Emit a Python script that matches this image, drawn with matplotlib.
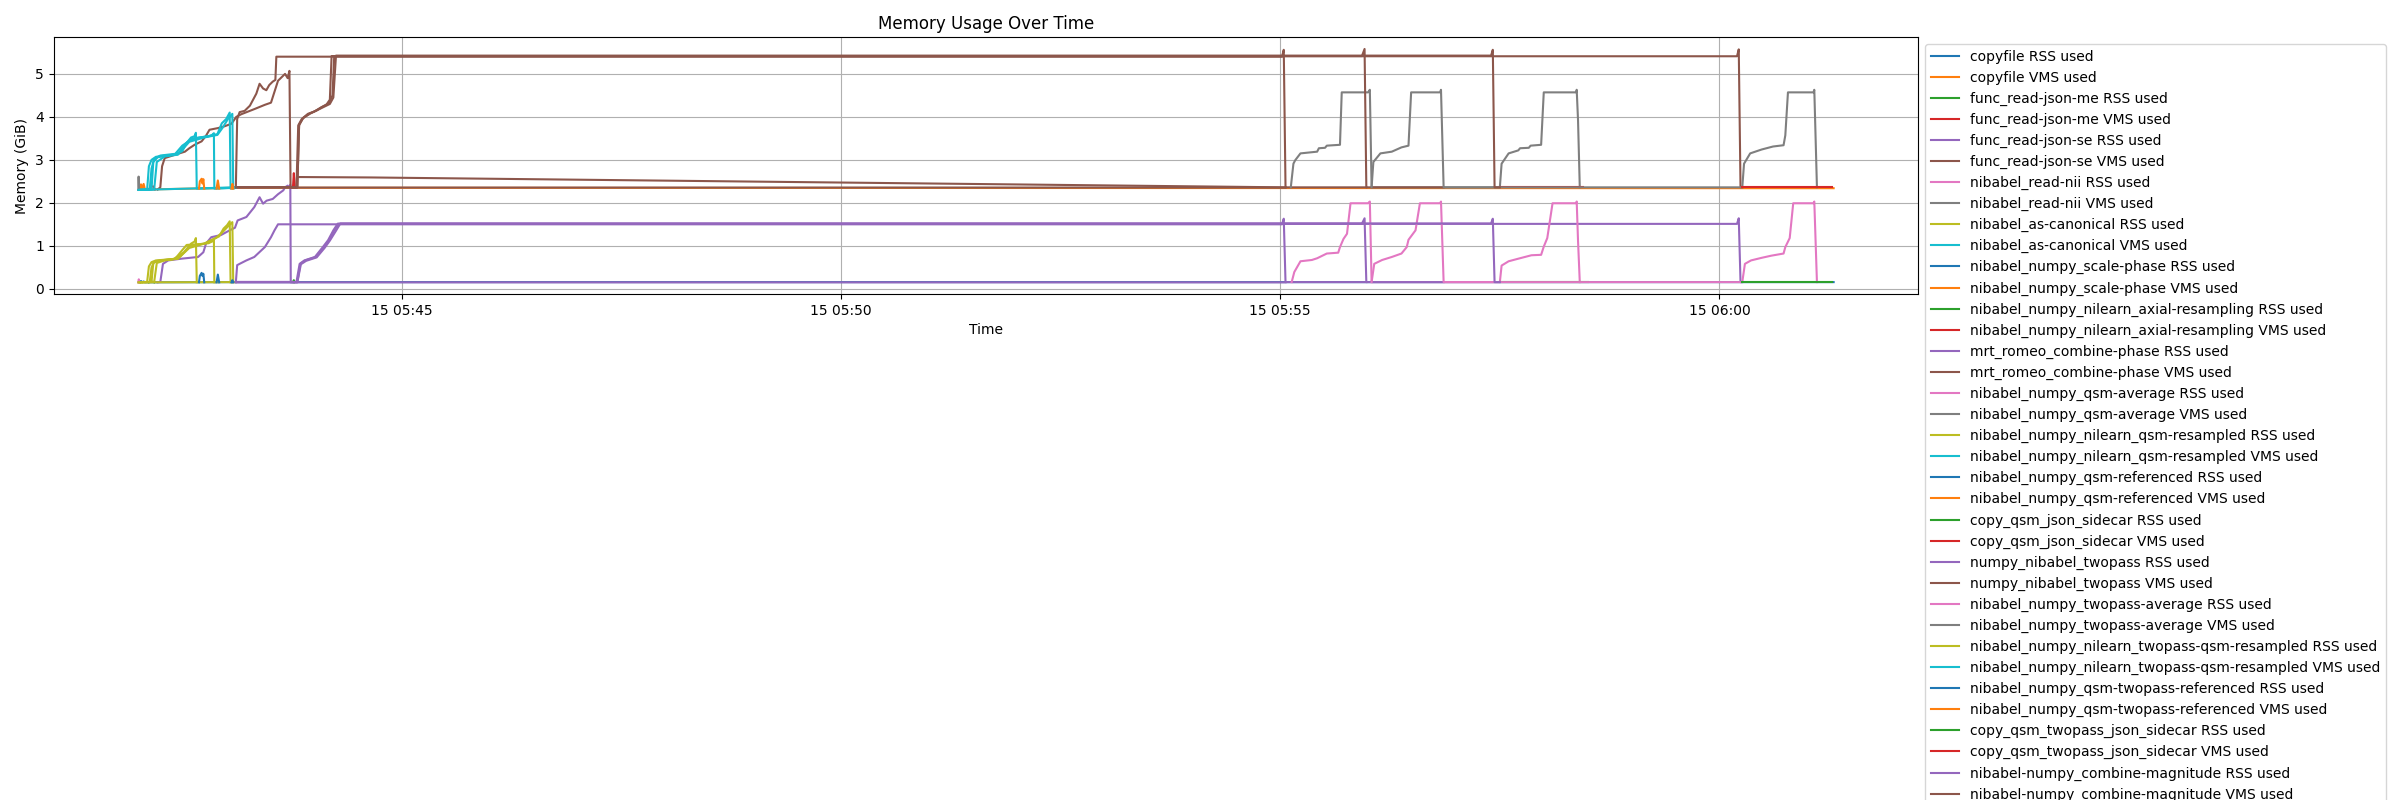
import matplotlib
matplotlib.use("Agg")
import matplotlib.pyplot as plt
import numpy as np

# Time points are minutes after the base time; values in GiB
base_time = "2024-05-15T05:40:00"

copyfile_rss = [(2.02, 0.15), (2.03, 0.18), (2.045, 0.15), (2.06, 0.17), (2.075, 0.15), (3.11, 0.155),
                (21.30, 0.155)]
copyfile_vms = [(2.02, 2.31), (2.03, 2.43), (2.045, 2.33), (2.06, 2.44), (2.075, 2.31), (3.11, 2.35),
                (21.30, 2.34)]
json_me_rss = [(2.12, 0.15), (2.15, 0.17), (2.18, 0.15)]
json_me_vms = [(2.12, 2.31), (2.14, 2.38), (2.17, 2.38), (2.19, 2.31)]
json_se_rss = [(2.22, 0.15), (2.25, 0.16), (2.28, 0.58), (2.34, 0.66), (2.49, 0.70), (2.68, 0.74),
               (2.74, 0.85), (2.77, 1.05), (2.83, 1.20), (2.94, 1.25), (3.04, 1.36), (3.10, 1.42),
               (3.13, 1.59), (3.23, 1.67), (3.32, 1.90), (3.38, 2.13), (3.42, 1.98), (3.46, 2.05),
               (3.53, 2.09), (3.59, 2.20), (3.65, 2.29), (3.67, 2.36), (3.70, 2.40), (3.72, 2.36),
               (3.73, 2.42), (3.735, 0.15), (15.06, 0.15)]
json_se_vms = [(2.22, 2.31), (2.25, 2.36), (2.27, 2.85), (2.30, 3.04), (2.45, 3.14), (2.53, 3.19),
               (2.58, 3.27), (2.64, 3.35), (2.72, 3.43), (2.77, 3.56), (2.81, 3.70), (2.91, 3.74),
               (2.98, 3.78), (3.06, 3.84), (3.115, 4.00), (3.17, 4.06), (3.32, 4.18), (3.44, 4.28),
               (3.51, 4.33), (3.59, 4.84), (3.67, 5.00), (3.70, 4.90), (3.72, 5.07), (3.733, 2.355),
               (15.06, 2.355)]
read_nii_rss = [(2.00, 0.15), (2.005, 0.22), (2.01, 0.15)]
read_nii_vms = [(2.00, 2.30), (2.003, 2.61), (2.008, 2.30), (2.02, 2.30)]
canonical_rss = [(2.00, 0.15), (2.10, 0.16), (2.12, 0.52), (2.15, 0.62), (2.20, 0.66), (2.45, 0.70),
                 (2.50, 0.80), (2.56, 0.94), (2.60, 1.05), (2.64, 1.10), (2.655, 1.18), (2.665, 0.15)]
canonical_vms = [(2.00, 2.30), (2.10, 2.31), (2.12, 2.85), (2.15, 3.00), (2.20, 3.07), (2.30, 3.10),
                 (2.45, 3.13), (2.50, 3.28), (2.56, 3.42), (2.60, 3.52), (2.64, 3.55), (2.655, 3.63),
                 (2.665, 2.33), (3.11, 2.35)]
scale_phase_rss = [(2.69, 0.15), (2.70, 0.30), (2.72, 0.37), (2.73, 0.30), (2.74, 0.35), (2.75, 0.15)]
scale_phase_vms = [(2.69, 2.33), (2.70, 2.50), (2.72, 2.56), (2.73, 2.45), (2.74, 2.55), (2.75, 2.33)]
axial_rss = [(3.76, 0.155), (3.77, 0.20), (3.78, 0.155)]
axial_vms = [(3.76, 2.36), (3.77, 2.69), (3.78, 2.36)]
romeo_rss = [(3.11, 0.155), (3.125, 0.55), (3.153, 0.58), (3.23, 0.66), (3.32, 0.74), (3.44, 0.97),
             (3.51, 1.20), (3.55, 1.36), (3.59, 1.50), (15.02, 1.50), (15.04, 1.63), (15.06, 0.155),
             (15.98, 0.155)]
romeo_vms = [(3.11, 2.36), (3.125, 3.95), (3.153, 4.11), (3.21, 4.14), (3.27, 4.26), (3.343, 4.54),
             (3.38, 4.77), (3.42, 4.66), (3.457, 4.62), (3.49, 4.74), (3.53, 4.82), (3.56, 4.86),
             (3.571, 5.40), (15.02, 5.40), (15.04, 5.56), (15.06, 2.36), (15.98, 2.36)]
qsm_avg_rss = [(15.13, 0.155), (15.16, 0.39), (15.23, 0.64), (15.36, 0.67), (15.42, 0.71), (15.53, 0.82),
               (15.66, 0.84), (15.68, 0.97), (15.72, 1.16), (15.76, 1.28), (15.80, 1.99), (16.00, 1.99),
               (16.02, 2.03), (16.04, 0.155), (17.50, 0.155), (17.52, 0.54), (17.60, 0.64), (17.71, 0.70),
               (17.86, 0.78), (17.97, 0.79), (18.00, 0.98), (18.04, 1.18), (18.10, 1.99), (18.37, 1.99),
               (18.375, 2.03), (18.39, 1.12), (18.41, 0.155)]
qsm_avg_vms = [(15.12, 2.36), (15.15, 2.91), (15.17, 2.99), (15.23, 3.15), (15.42, 3.19), (15.44, 3.27),
               (15.51, 3.28), (15.53, 3.33), (15.68, 3.35), (15.70, 4.57), (16.00, 4.57), (16.02, 4.63),
               (16.04, 2.36), (17.50, 2.36), (17.52, 2.91), (17.60, 3.15), (17.71, 3.22), (17.73, 3.27),
               (17.83, 3.28), (17.85, 3.33), (17.97, 3.35), (18.00, 4.57), (18.37, 4.57), (18.375, 4.63),
               (18.39, 3.93), (18.41, 2.36)]
resampled_rss = [(2.01, 0.15), (2.13, 0.16), (2.15, 0.50), (2.18, 0.62), (2.25, 0.66), (2.42, 0.70),
                 (2.50, 0.90), (2.55, 1.02), (2.70, 1.04), (2.80, 1.06), (2.84, 1.10), (2.86, 1.16),
                 (2.865, 0.15)]
resampled_vms = [(2.01, 2.30), (2.13, 2.32), (2.15, 2.80), (2.18, 3.02), (2.25, 3.10), (2.42, 3.14),
                 (2.50, 3.33), (2.60, 3.47), (2.70, 3.52), (2.80, 3.55), (2.84, 3.58), (2.86, 3.62),
                 (2.865, 2.33), (3.11, 2.35)]
referenced_rss = [(2.89, 0.15), (2.905, 0.33), (2.92, 0.15)]
referenced_vms = [(2.89, 2.33), (2.905, 2.52), (2.92, 2.33)]
sidecar_rss = [(17.50, 0.16), (18.50, 0.16)]
sidecar_vms = [(17.50, 2.36), (18.45, 2.36)]
twopass_rss = [(3.11, 0.16), (3.80, 0.16), (3.836, 0.58), (3.89, 0.66), (4.01, 0.74), (4.10, 0.97),
               (4.16, 1.13), (4.22, 1.36), (4.27, 1.515), (15.93, 1.515), (15.96, 1.64), (15.98, 0.155),
               (16.86, 0.155)]
twopass_vms = [(3.11, 2.365), (3.80, 2.365), (3.82, 3.80), (3.86, 3.95), (3.93, 4.07), (4.00, 4.12),
               (4.08, 4.22), (4.14, 4.28), (4.18, 4.40), (4.20, 5.415), (15.93, 5.415), (15.96, 5.58),
               (15.98, 2.36), (16.86, 2.36)]
tp_avg_rss = [(16.04, 0.155), (16.07, 0.58), (16.16, 0.67), (16.27, 0.74), (16.38, 0.82), (16.44, 0.97),
              (16.46, 1.14), (16.54, 1.36), (16.59, 1.99), (16.82, 1.99), (16.83, 2.03), (16.86, 0.155),
              (20.26, 0.155), (20.29, 0.58), (20.36, 0.66), (20.48, 0.72), (20.59, 0.77), (20.73, 0.82),
              (20.75, 0.97), (20.80, 1.18), (20.84, 1.99), (21.07, 1.99), (21.08, 2.03), (21.11, 0.155)]
tp_avg_vms = [(16.04, 2.36), (16.06, 2.95), (16.14, 3.15), (16.27, 3.19), (16.38, 3.29), (16.46, 3.33),
              (16.49, 4.57), (16.82, 4.57), (16.83, 4.63), (16.86, 2.36), (20.26, 2.36), (20.28, 2.91),
              (20.35, 3.15), (20.48, 3.24), (20.61, 3.31), (20.73, 3.34), (20.75, 3.57), (20.78, 4.57),
              (21.07, 4.57), (21.08, 4.63), (21.11, 2.36)]
tp_resampled_rss = [(2.02, 0.15), (2.15, 0.16), (2.17, 0.60), (2.22, 0.65), (2.40, 0.69), (2.52, 0.85),
                    (2.58, 1.00), (2.75, 1.05), (2.85, 1.15), (2.92, 1.22), (2.97, 1.40), (3.01, 1.48),
                    (3.04, 1.57), (3.05, 0.15)]
tp_resampled_vms = [(2.02, 2.30), (2.15, 2.31), (2.17, 2.95), (2.22, 3.06), (2.40, 3.12), (2.50, 3.20),
                    (2.55, 3.40), (2.62, 3.50), (2.80, 3.55), (2.90, 3.60), (2.95, 3.85), (3.00, 3.95),
                    (3.04, 4.10), (3.05, 2.33), (3.11, 2.35)]
tp_referenced_rss = [(3.06, 0.15), (3.07, 0.20), (3.08, 0.15)]
tp_referenced_vms = [(3.06, 2.33), (3.07, 2.44), (3.08, 2.33)]
tp_sidecar_rss = [(20.26, 0.16), (21.28, 0.16)]
tp_sidecar_vms = [(20.26, 2.36), (21.28, 2.36)]
magnitude_rss = [(3.11, 0.15), (3.81, 0.15), (3.85, 0.57), (3.91, 0.65), (4.03, 0.73), (4.12, 0.95),
                 (4.18, 1.12), (4.25, 1.35), (4.30, 1.52), (17.40, 1.52), (17.42, 1.63), (17.44, 0.155),
                 (17.50, 0.155)]
magnitude_vms = [(3.11, 2.355), (3.81, 2.355), (3.83, 3.82), (3.88, 3.98), (3.96, 4.08), (4.04, 4.16),
                 (4.12, 4.24), (4.18, 4.30), (4.22, 4.45), (4.25, 5.425), (17.40, 5.425), (17.42, 5.56),
                 (17.44, 2.36), (17.50, 2.36)]

# further processes whose legend entries fall below the visible figure
more_vms_a = [(2.03, 2.30), (2.18, 2.31), (2.21, 2.95), (2.30, 3.08), (2.45, 3.12), (2.58, 3.42),
              (2.75, 3.52), (2.90, 3.58), (2.96, 3.75), (3.02, 3.95), (3.07, 4.07), (3.08, 2.33), (3.11, 2.35)]
more_rss_a = [(2.03, 0.15), (2.18, 0.16), (2.21, 0.60), (2.30, 0.66), (2.45, 0.70), (2.58, 0.95),
              (2.75, 1.05), (2.88, 1.18), (2.95, 1.30), (3.02, 1.45), (3.07, 1.55), (3.08, 0.15)]
more_vms_b = [(3.80, 2.36), (3.806, 2.60), (4.65, 2.59), (15.06, 2.36)]
more_vms_c = [(3.11, 2.36), (3.81, 2.36), (3.83, 3.80), (3.87, 3.96), (3.95, 4.08), (4.03, 4.15),
              (4.10, 4.24), (4.17, 4.32), (4.21, 4.50), (4.23, 5.41), (20.20, 5.41), (20.22, 5.57),
              (20.24, 2.36), (20.26, 2.36)]
more_rss_c = [(3.11, 0.155), (3.81, 0.155), (3.845, 0.58), (3.90, 0.66), (4.02, 0.74), (4.11, 0.96),
              (4.17, 1.12), (4.23, 1.36), (4.28, 1.51), (20.20, 1.51), (20.22, 1.64), (20.24, 0.155),
              (20.26, 0.155)]
more_vms_d = [(2.00, 2.30), (3.11, 2.36)]
more_rss_d = [(2.00, 0.15), (3.11, 0.155)]

task_names = ["copyfile", "func_read-json-me", "func_read-json-se", "nibabel_read-nii",
              "nibabel_as-canonical", "nibabel_numpy_scale-phase", "nibabel_numpy_nilearn_axial-resampling",
              "mrt_romeo_combine-phase", "nibabel_numpy_qsm-average", "nibabel_numpy_nilearn_qsm-resampled",
              "nibabel_numpy_qsm-referenced", "copy_qsm_json_sidecar", "numpy_nibabel_twopass",
              "nibabel_numpy_twopass-average", "nibabel_numpy_nilearn_twopass-qsm-resampled",
              "nibabel_numpy_qsm-twopass-referenced", "copy_qsm_twopass_json_sidecar",
              "nibabel-numpy_combine-magnitude"]
task_series = [(copyfile_rss, copyfile_vms), (json_me_rss, json_me_vms), (json_se_rss, json_se_vms),
               (read_nii_rss, read_nii_vms), (canonical_rss, canonical_vms),
               (scale_phase_rss, scale_phase_vms), (axial_rss, axial_vms), (romeo_rss, romeo_vms),
               (qsm_avg_rss, qsm_avg_vms), (resampled_rss, resampled_vms),
               (referenced_rss, referenced_vms), (sidecar_rss, sidecar_vms),
               (twopass_rss, twopass_vms), (tp_avg_rss, tp_avg_vms),
               (tp_resampled_rss, tp_resampled_vms), (tp_referenced_rss, tp_referenced_vms),
               (tp_sidecar_rss, tp_sidecar_vms), (magnitude_rss, magnitude_vms)]
extra_series = [more_vms_a, more_rss_a, more_vms_b, more_vms_c, more_rss_c, more_vms_d, more_rss_d]
extra_colors = ["C9", "C8", "C5", "C5", "C4", "C9", "C8"]

t0 = np.datetime64(base_time)


def to_xy(pts):
    mins = np.array([p[0] for p in pts])
    vals = np.array([p[1] for p in pts])
    times = t0 + (mins * 60000).round().astype("timedelta64[ms]")
    return times, vals


fig = plt.figure(figsize=(24, 8), dpi=100)
ax = fig.add_axes([0.02233, 0.6325, 0.7770, 0.3209])

idx = 0
for name, (rss, vms) in zip(task_names, task_series):
    for kind, pts in (("RSS", rss), ("VMS", vms)):
        x, y = to_xy(pts)
        ax.plot(x, y, color=f"C{idx % 10}", label=f"{name} {kind} used", zorder=2 + idx * 0.01)
        idx += 1

for pts, col in zip(extra_series, extra_colors):
    x, y = to_xy(pts)
    ax.plot(x, y, color=col, zorder=2.05)

ax.set_title("Memory Usage Over Time")
ax.set_xlabel("Time")
ax.set_ylabel("Memory (GiB)")
ax.grid(True)
ax.legend(loc="upper left", bbox_to_anchor=(1, 1))

fig.savefig("out.png", dpi=100)
